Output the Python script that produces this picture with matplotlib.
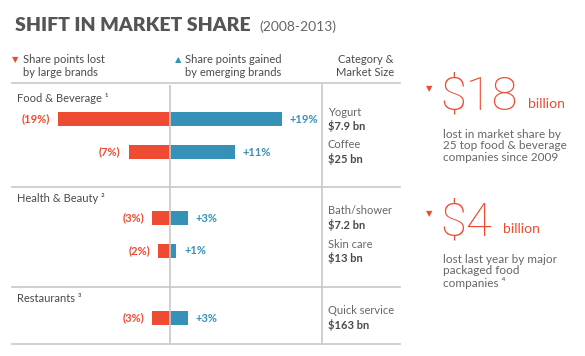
import matplotlib
matplotlib.use('Agg')
import matplotlib.pyplot as plt

plt.rcParams['font.family'] = ['Lato', 'DejaVu Sans']

RED = '#EE4B32'
BLUE = '#3591B8'
DARK = '#4a4a4a'
GREY = '#666666'
RULE = '#c8c8c8'

# data
sections = ['Food & Beverage \u00b9', 'Health & Beauty \u00b2', 'Restaurants \u00b3']
categories = ['Yogurt', 'Coffee', 'Bath/shower', 'Skin care', 'Quick service']
market_size = ['$7.9 bn', '$25 bn', '$7.2 bn', '$13 bn', '$163 bn']
lost = [19, 7, 3, 2, 3]
gained = [19, 11, 3, 1, 3]
callout_values = ['$18', '$4']
callout_texts = ['lost in market share by\n25 top food & beverage\ncompanies since 2009',
                 'lost last year by major\npackaged food\ncompanies \u2074']

# layout, in pixels from the top-left corner
W, H = 585, 356
row_y = [119, 152, 218, 251, 318]
head_y = [98, 199, 298]
rules_y = [83, 187, 287, 344]
callout_y = [110, 235]
px_per_pt = 5.87
mid_x = 170
left_x, right_x, table_x = 12, 400, 322
light = ['Roboto', 'DejaVu Sans']

fig = plt.figure(figsize=(W / 100, H / 100), dpi=100)
ax = fig.add_axes([0, 0, 1, 1])
ax.set_xlim(0, W)
ax.set_ylim(H, 0)
ax.axis('off')

# title
title = ax.text(15, 31, 'SHIFT IN MARKET SHARE', fontsize=14, fontweight='heavy',
                color='#555555', va='baseline')
ax.annotate('(2008-2013)', xy=(1, 31), xycoords=(title, 'data'), xytext=(6, 0),
            textcoords='offset points', fontsize=10, color=GREY, va='baseline')

# legend / column headers
ax.text(12, 60, '\u25bc', color=RED, fontsize=6, va='center')
ax.text(23, 54, 'Share points lost\nby large brands', color=DARK, fontsize=8,
        va='top', linespacing=1.25)
ax.text(175, 60, '\u25b2', color=BLUE, fontsize=6, va='center')
ax.text(185, 54, 'Share points gained\nby emerging brands', color=DARK, fontsize=8,
        va='top', linespacing=1.25)
ax.text(394, 54, 'Category &\nMarket Size', color=DARK, fontsize=8,
        va='top', ha='right', linespacing=1.25)

# rules
for y in rules_y:
    ax.plot([left_x, right_x], [y, y], color=RULE, lw=1.2)
ax.plot([table_x, table_x], [rules_y[0] + 2, rules_y[-1]], color=RULE, lw=1.2)

# section headings
for name, y in zip(sections, head_y):
    ax.text(17, y, name, color=DARK, fontsize=8, va='center')

# category labels
for cat, size, y in zip(categories, market_size, row_y):
    ax.text(328, y - 7, cat, color=GREY, fontsize=8, va='center')
    ax.text(328, y + 7, size, color=DARK, fontsize=8, fontweight='bold', va='center')

# bars
axb = fig.add_axes([left_x / W, 1 - rules_y[-1] / H, (table_x - left_x) / W,
                    (rules_y[-1] - rules_y[0] - 2) / H])
axb.patch.set_alpha(0)
axb.set_xlim(-(mid_x - left_x) / px_per_pt, (table_x - mid_x) / px_per_pt)
axb.set_ylim(rules_y[-1], rules_y[0] + 2)
axb.axis('off')
axb.barh(row_y, [-v for v in lost], height=14, color=RED)
axb.barh(row_y, gained, height=14, color=BLUE)
axb.axvline(0, color=RULE, lw=1.2)
off = 1.4
for y, l, g in zip(row_y, lost, gained):
    axb.text(-l - off, y, f'({l}%)', ha='right', va='center', color=RED,
             fontsize=8, fontweight='bold')
    axb.text(g + off, y, f'+{g}%', ha='left', va='center', color=BLUE,
             fontsize=8, fontweight='bold')

# callouts
for val, txt, y in zip(callout_values, callout_texts, callout_y):
    ax.text(426, y - 21, '\u25bc', color=RED, fontsize=6, va='center')
    big = ax.text(440, y, val, color=RED, fontsize=34, fontweight='light',
                  family=light, va='baseline')
    ax.annotate('billion', xy=(1, y - 2), xycoords=(big, 'data'), xytext=(8, 0),
                textcoords='offset points', color=RED, fontsize=10, va='baseline')
    ax.text(443, y + 19, txt, color=GREY, fontsize=8.5, va='top', linespacing=1.05)

fig.savefig('out.png', dpi=100)
